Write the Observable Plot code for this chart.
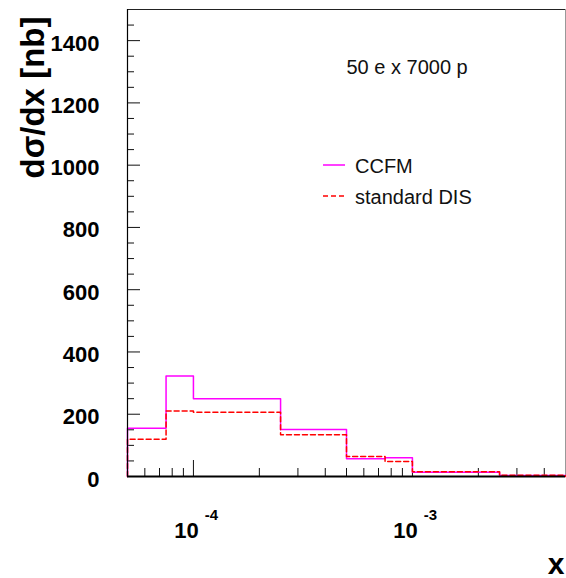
<!DOCTYPE html>
<html><head><meta charset="utf-8">
<script src="https://cdn.jsdelivr.net/npm/d3@7"></script>
<script src="https://cdn.jsdelivr.net/npm/@observablehq/plot@0.6"></script>
<style>body{margin:0;background:#fff}</style>
</head><body><div id="chart"></div>
<script>
const binEdges = [5e-5, 7.5e-5, 1e-4, 2.5e-4, 5e-4, 7.5e-4, 1e-3, 2.5e-3, 5e-3];
const ccfm = [155, 323, 250, 151, 57, 60, 14, 3];
const standardDIS = [120, 210, 206, 134, 64, 48, 15, 4];
const yMajorTicks = [0, 200, 400, 600, 800, 1000, 1200, 1400];
const yMinorTicks = [50, 100, 150, 250, 300, 350, 450, 500, 550, 650, 700, 750, 850, 900, 950, 1050, 1100, 1150, 1250, 1300, 1350, 1450];
const xMajorTicks = [1e-4, 1e-3];
const xExponents = ["-4", "-3"];
const xMinorTicks = [6e-5, 7e-5, 8e-5, 9e-5, 2e-4, 3e-4, 4e-4, 5e-4, 6e-4, 7e-4, 8e-4, 9e-4, 2e-3, 3e-3, 4e-3];
const seriesNames = ["CCFM", "standard DIS"];
const titleText = "50 e x 7000 p";

function outline(values) {
  const last = binEdges[binEdges.length - 1];
  const pts = [{x: binEdges[0], y: 0}];
  values.forEach((v, i) => pts.push({x: binEdges[i], y: v}));
  pts.push({x: last, y: values[values.length - 1]});
  pts.push({x: last, y: 0});
  return pts;
}

const W = 566, H = 578, mL = 127, mR = 1, mT = 9, mB = 102;
const fw = W - mL - mR, fh = H - mT - mB;

const plot = Plot.plot({
  width: W, height: H,
  marginLeft: mL, marginRight: mR, marginTop: mT, marginBottom: mB,
  style: {fontFamily: "'Liberation Sans', Arial, sans-serif", background: "#fff"},
  x: {type: "log", domain: [5e-5, 5e-3], axis: null},
  y: {domain: [0, 1500], axis: null},
  marks: [
    Plot.ruleY([1500], {stroke: "#222", strokeWidth: 1}),
    Plot.ruleX([5e-3], {stroke: "#999", strokeWidth: 1}),
    Plot.ruleY(yMajorTicks, {stroke: "#111", strokeWidth: 1, insetRight: fw - 13}),
    Plot.ruleY(yMinorTicks, {stroke: "#111", strokeWidth: 1, insetRight: fw - 7}),
    Plot.ruleX(xMajorTicks, {stroke: "#111", strokeWidth: 1, insetTop: fh - 16}),
    Plot.ruleX(xMinorTicks, {stroke: "#111", strokeWidth: 1, insetTop: fh - 8}),
    Plot.line(outline(ccfm), {x: "x", y: "y", curve: "step-after", stroke: "#ff00ff", strokeWidth: 1.5}),
    Plot.line(outline(standardDIS), {x: "x", y: "y", curve: "step-after", stroke: "#ff0000", strokeWidth: 1.5, strokeDasharray: "5,3"}),
    Plot.ruleX([5e-5], {stroke: "#000", strokeWidth: 1.2}),
    Plot.ruleY([0], {stroke: "#000", strokeWidth: 2}),
    Plot.text(yMajorTicks, {y: d => d, text: d => String(d), frameAnchor: "left", dx: -28, dy: 3, textAnchor: "end", lineAnchor: "middle", fontSize: 22, fontWeight: "bold", fill: "#000"}),
    Plot.text(xMajorTicks, {x: d => d, text: () => "10", frameAnchor: "bottom", dx: -7, dy: 61, textAnchor: "middle", lineAnchor: "bottom", fontSize: 22, fontWeight: "bold", fill: "#000"}),
    Plot.text(xMajorTicks, {x: d => d, text: (d, i) => xExponents[i], frameAnchor: "bottom", dx: 18, dy: 43, textAnchor: "middle", lineAnchor: "bottom", fontSize: 15, fontWeight: "bold", fill: "#000"}),
    Plot.text(["dσ/dx [nb]"], {text: d => d, frameAnchor: "top-left", dx: -84, dy: 88, rotate: -90, textAnchor: "middle", lineAnchor: "bottom", fontSize: 33, fontWeight: "bold", fill: "#000"}),
    Plot.text(["x"], {text: d => d, frameAnchor: "bottom-right", dx: -1, dy: 97, textAnchor: "end", lineAnchor: "bottom", fontSize: 30, fontWeight: "bold", fill: "#000"}),
    Plot.text([titleText], {text: d => d, frameAnchor: "top-left", dx: 219, dy: 64, textAnchor: "start", lineAnchor: "bottom", fontSize: 20, fill: "#111"})
  ]
});

const svg = d3.select(plot);
const legend = [
  {name: seriesNames[0], color: "#ff00ff", dash: null, y: 165},
  {name: seriesNames[1], color: "#ff0000", dash: "5,3", y: 196}
];
legend.forEach(l => {
  svg.append("line").attr("x1", 323).attr("x2", 345).attr("y1", l.y).attr("y2", l.y)
    .attr("stroke", l.color).attr("stroke-width", 1.5).attr("stroke-dasharray", l.dash);
  svg.append("text").attr("x", 355).attr("y", l.y + 7.5).attr("font-size", 20)
    .attr("text-anchor", "start").attr("fill", "#111").text(l.name);
});

document.getElementById("chart").appendChild(plot);
</script>
</body></html>
